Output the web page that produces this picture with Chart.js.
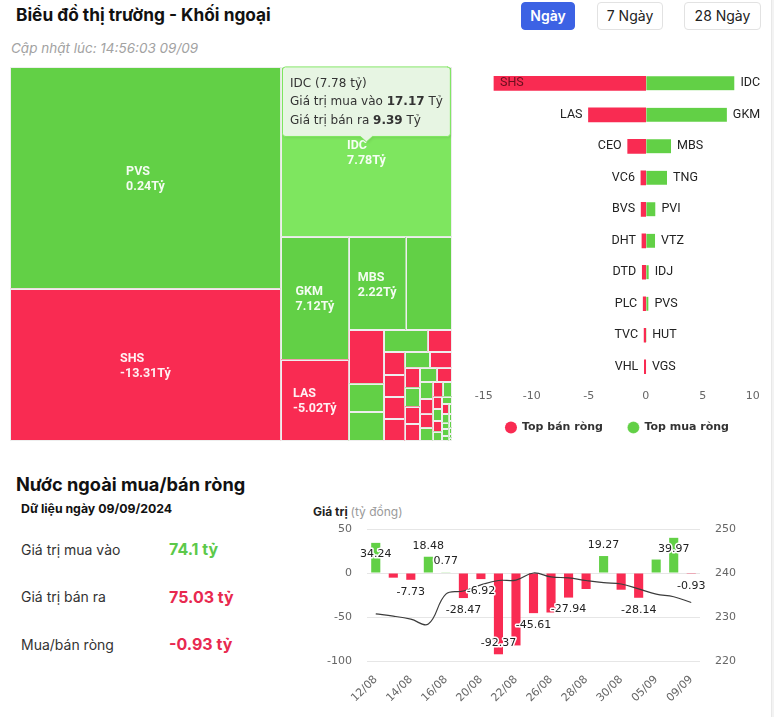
<!DOCTYPE html>
<html lang="vi">
<head>
<meta charset="utf-8">
<title>Biểu đồ thị trường - Khối ngoại</title>
<script src="https://cdn.jsdelivr.net/npm/chart.js@4.4.1/dist/chart.umd.min.js"></script>
<style>
html,body{margin:0;padding:0;background:#fff;}
body{width:774px;height:717px;position:relative;overflow:hidden;font-family:Inter,"Noto Sans",sans-serif;color:#111;}
.a{position:absolute;white-space:nowrap;line-height:1.2;}
#title{left:16px;top:5px;font-size:17.3px;font-weight:700;color:#111;}
#updated{left:11px;top:40px;font-size:13.5px;font-style:italic;color:#a2a2a2;}
.btn{position:absolute;top:2px;height:28px;line-height:26px;border:1px solid #e2e2e2;border-radius:4px;font-size:14px;text-align:center;color:#222;background:#fff;box-sizing:border-box;}
.btn.on{background:#3c62e4;border-color:#3c62e4;color:#fff;font-weight:600;}
#scroll{position:absolute;left:771px;top:0;width:3px;height:717px;background:#f3f3f3;border-left:1px solid #e8e8e8;}
canvas{position:absolute;}
#tm{left:10px;top:66px;}
#hb{left:460px;top:60px;}
#fl{left:300px;top:495px;}
#h2{left:16px;top:474px;font-size:18.2px;font-weight:700;}
#dd{left:21px;top:502px;font-size:12.3px;font-weight:700;}
.sl{left:21px;font-size:14px;color:#333;}
.sv{left:169px;font-size:16px;font-weight:700;}
#axt{left:313px;top:505px;font-size:12px;font-weight:700;color:#222;}
#axt span{font-weight:400;color:#9a9a9a;}
</style>
</head>
<body>
<div id="title" class="a">Biểu đồ thị trường - Khối ngoại</div>
<div id="updated" class="a">Cập nhật lúc: 14:56:03 09/09</div>
<div class="btn on" style="left:521px;width:54px;">Ngày</div>
<div class="btn" style="left:597px;width:66px;">7 Ngày</div>
<div class="btn" style="left:684px;width:77px;">28 Ngày</div>

<canvas id="tm" width="442" height="376"></canvas>
<canvas id="hb" width="314" height="383"></canvas>

<div id="h2" class="a">Nước ngoài mua/bán ròng</div>
<div id="dd" class="a">Dữ liệu ngày 09/09/2024</div>
<div id="stats"></div>
<div id="axt" class="a">Giá trị <span>(tỷ đồng)</span></div>
<canvas id="fl" width="474" height="222"></canvas>
<div id="scroll"></div>

<script>
// ---------------- DATA ----------------
// Treemap: total traded value (buy + sell, tỷ) and net value per ticker
const tmNames  = ['PVS','SHS','IDC','GKM','LAS','MBS','TNG','CEO','PVI','VTZ','HUT','VC6','BVS','DHT','DTD','PLC',
                  'IDJ','TVC','VHL','VGS','NTP','PVC','DDG','PVB','TIG','VCS','HHC','BCC','L14','IDV','NRC','APS',
                  'AMV','DL1','SHN','MST','KLF','VIG','HOM','PCT','SDA','VMC','TTH','KSF','ART','HDA'];
const tmTotals = [54.91,37.63,26.56,7.61,5.05,4.83,3.96,1.72,0.92,0.92,0.89,0.49,0.43,0.42,0.42,0.41,
                  0.36,0.31,0.28,0.27,0.25,0.24,0.22,0.20,0.19,0.17,0.16,0.15,0.13,0.12,0.11,0.10,
                  0.09,0.08,0.07,0.06,0.05,0.04,0.04,0.03,0.03,0.02,0.02,0.02,0.01,0.01];
const tmNet    = [0.24,-13.31,7.78,7.12,-5.02,2.22,1.87,-1.58,0.85,0.82,0.04,-0.42,-0.40,-0.33,-0.30,-0.22,
                  0.26,-0.14,-0.12,0.02,-0.09,-0.08,0.01,-0.07,0.01,-0.06,-0.05,0.01,-0.04,0.01,-0.03,0.01,
                  -0.02,0.01,0.01,-0.01,0.01,0.01,0.01,0.01,0.01,0.01,0.01,0.01,0.01,0.01];
const hoverTicker = 'IDC';
const hoverBuy = 17.17;
const hoverSell = 9.39;

// Top net sell / net buy
const sellNames  = ['SHS','LAS','CEO','VC6','BVS','DHT','DTD','PLC','TVC','VHL'];
const sellValues = [-13.31,-5.02,-1.58,-0.42,-0.40,-0.33,-0.30,-0.22,-0.14,-0.12];
const buyNames   = ['IDC','GKM','MBS','TNG','PVI','VTZ','IDJ','PVS','HUT','VGS'];
const buyValues  = [7.78,7.12,2.22,1.87,0.85,0.82,0.26,0.24,0.04,0.02];
const hbTicks    = [-15,-10,-5,0,5,10];

// Daily foreign net flow (tỷ đồng) and index line
const flowDates   = ['12/08','13/08','14/08','15/08','16/08','19/08','20/08','21/08','22/08','23/08',
                     '26/08','27/08','28/08','29/08','30/08','04/09','05/09','06/09','09/09'];
const flowValues  = [34.24,-5.3,-7.73,18.48,0.77,-28.47,-6.92,-92.37,-82.3,-45.61,
                     -44.9,-27.94,-18.2,19.27,-19.0,-28.14,15.3,39.97,-0.93];
const indexValues = [230.7,230.2,229.5,228.4,235.2,235.9,237.3,238.3,238.4,240.0,
                     239.1,238.9,238.3,237.8,237.5,236.4,235.2,234.6,233.3];
const leftTicks  = [-100,-50,0,50];
const rightTicks = [220,230,240,250];

// Summary
const statLabels = ['Giá trị mua vào','Giá trị bán ra','Mua/bán ròng'];
const statValues = [74.1,75.03,-0.93];

// ---------------- STYLE ----------------
const GREEN = '#62d046', RED = '#f92b52', HOVER_GREEN = '#7ee65f';
Chart.defaults.font.family = "'DejaVu Sans', sans-serif";
Chart.defaults.animation = false;

// summary rows
(function(){
  const wrap = document.getElementById('stats');
  const centers = [550,597.5,645];
  statLabels.forEach((l,i)=>{
    const d = document.createElement('div'); d.className='a sl'; d.textContent=l;
    d.style.top = (centers[i]-8.4)+'px'; wrap.appendChild(d);
    const v = document.createElement('div'); v.className='a sv';
    const val = statValues[i];
    v.textContent = (i===0 ? val.toFixed(1) : val.toFixed(2)) + ' tỷ';
    v.style.color = i===0 ? '#5cc94a' : '#e8294f';
    v.style.top = (centers[i]-9.8)+'px'; wrap.appendChild(v);
  });
})();

// ---------------- TREEMAP ----------------
function layoutTreemap(vals, W, H){
  const total = vals.reduce((s,v)=>s+v,0);
  const k = W*H/total;
  const rects = [];
  let rx=0, ry=0, rw=W, rh=H, dir=0, group=[], gsum=0;
  const ratio=(a,b)=>Math.max(a/b,b/a);
  const emit=(thick)=>{
    let cx=rx, cy=ry;
    group.forEach(g=>{
      if(dir===0){const h=g.a/thick; rects.push({i:g.i,x:rx,y:cy,w:thick,h:h}); cy+=h;}
      else {const w=g.a/thick; rects.push({i:g.i,x:cx,y:ry,w:w,h:thick}); cx+=w;}
    });
    if(dir===0){rx+=thick; rw-=thick;} else {ry+=thick; rh-=thick;}
    dir=1-dir; group=[]; gsum=0;
  };
  vals.forEach((v,i)=>{
    const a=v*k;
    if(group.length){
      const side = dir===0 ? rh : rw;
      const last = group[group.length-1].a;
      const t0 = gsum/side, t1=(gsum+a)/side;
      if (ratio(t1, last/t1) > ratio(t0, last/t0)) emit(t0);
    }
    group.push({i:i,a:a}); gsum+=a;
  });
  if(group.length) emit(gsum/(dir===0?rh:rw));
  return rects;
}

const treemapPlugin = {
  id:'treemapCells',
  afterDatasetsDraw(chart){
    const ctx = chart.ctx, a = chart.chartArea, xs = chart.scales.x, ys = chart.scales.y;
    const W = a.right-a.left, H = a.bottom-a.top;
    const rects = layoutTreemap(tmTotals, W, H);
    ctx.save();
    let hov = null;
    rects.forEach(r=>{
      const x0 = xs.getPixelForValue(r.x/W), x1 = xs.getPixelForValue((r.x+r.w)/W);
      const y0 = ys.getPixelForValue(r.y/H), y1 = ys.getPixelForValue((r.y+r.h)/H);
      const net = tmNet[r.i];
      const isHov = tmNames[r.i]===hoverTicker;
      ctx.fillStyle = net>=0 ? (isHov?HOVER_GREEN:GREEN) : RED;
      ctx.fillRect(x0,y0,x1-x0,y1-y0);
      ctx.strokeStyle = '#eeeeee'; ctx.lineWidth = 1;
      ctx.strokeRect(Math.round(x0)+0.5, Math.round(y0)+0.5, Math.round(x1)-Math.round(x0)-1, Math.round(y1)-Math.round(y0)-1);
      r.px={x0,x1,y0,y1};
      if(isHov) hov = r;
    });
    // labels
    ctx.font = "bold 12.5px Roboto"; ctx.textBaseline='middle'; ctx.textAlign='left';
    ctx.fillStyle = 'rgba(255,255,255,0.93)';
    rects.forEach(r=>{
      const {x0,x1,y0,y1} = r.px;
      if (x1-x0 < 52 || y1-y0 < 40) return;
      const l1 = tmNames[r.i], l2 = tmNet[r.i].toFixed(2)+'Tỷ';
      const w = Math.max(ctx.measureText(l1).width, ctx.measureText(l2).width);
      const cx=(x0+x1)/2, cy=(y0+y1)/2;
      ctx.fillText(l1, cx-w/2, cy-6);
      ctx.fillText(l2, cx-w/2, cy+9);
    });
    // tooltip for hovered cell
    if (hov){
      const {x0,x1,y0,y1} = hov.px;
      const cx=(x0+x1)/2, cy=(y0+y1)/2;
      const net = tmNet[hov.i];
      const lines = [
        [[hoverTicker+' ('+net.toFixed(2)+' tỷ)',false]],
        [['Giá trị mua vào ',false],[hoverBuy.toFixed(2),true],[' Tỷ',false]],
        [['Giá trị bán ra ',false],[hoverSell.toFixed(2),true],[' Tỷ',false]]
      ];
      const fN = "12px 'DejaVu Sans'", fB = "bold 12px 'DejaVu Sans'";
      const widths = lines.map(ln=>ln.reduce((s,p)=>{ctx.font=p[1]?fB:fN; return s+ctx.measureText(p[0]).width;},0));
      const bw = Math.max(...widths)+16, bh = 70;
      const tipY = cy-10, bb = tipY-5.5, bt = bb-bh, bl = cx-bw/2;
      ctx.beginPath();
      const rr=3;
      ctx.moveTo(bl+rr+0.5, bt+0.5);
      ctx.lineTo(bl+bw-rr, bt+0.5); ctx.arcTo(bl+bw-0.5,bt+0.5,bl+bw-0.5,bt+rr,rr);
      ctx.lineTo(bl+bw-0.5, bb-rr); ctx.arcTo(bl+bw-0.5,bb,bl+bw-rr,bb,rr);
      ctx.lineTo(cx+6, bb); ctx.lineTo(cx, tipY); ctx.lineTo(cx-6, bb);
      ctx.lineTo(bl+rr, bb); ctx.arcTo(bl+0.5,bb,bl+0.5,bb-rr,rr);
      ctx.lineTo(bl+0.5, bt+rr); ctx.arcTo(bl+0.5,bt+0.5,bl+rr,bt+0.5,rr);
      ctx.closePath();
      ctx.shadowColor='rgba(0,0,0,0.12)'; ctx.shadowBlur=3; ctx.shadowOffsetX=1; ctx.shadowOffsetY=1;
      ctx.fillStyle='rgba(250,252,250,0.86)'; ctx.fill();
      ctx.shadowColor='transparent';
      ctx.strokeStyle=HOVER_GREEN; ctx.lineWidth=1; ctx.stroke();
      ctx.textBaseline='middle'; ctx.textAlign='left'; ctx.fillStyle='#333';
      lines.forEach((ln,li)=>{
        let x = bl+8; const y = bt+17.2+li*18.5;
        ln.forEach(p=>{ctx.font=p[1]?fB:fN; ctx.fillText(p[0],x,y); x+=ctx.measureText(p[0]).width;});
      });
    }
    ctx.restore();
  }
};

new Chart(document.getElementById('tm'), {
  type:'scatter',
  data:{datasets:[{data:[]}]},
  options:{
    responsive:false, animation:false,
    layout:{padding:{top:1,bottom:1,left:0,right:0}},
    plugins:{legend:{display:false},tooltip:{enabled:false}},
    scales:{
      x:{type:'linear',min:0,max:1,display:false},
      y:{type:'linear',min:0,max:1,reverse:true,display:false}
    }
  },
  plugins:[treemapPlugin]
});

// ---------------- TOP BUY / SELL BARS ----------------
const barNamePlugin = {
  id:'barNames',
  beforeDraw(chart){
    // let the tick labels extend below the compact axis box
    const s = chart.scales.x; s.bottom = s.top + 24;
  },
  afterDatasetsDraw(chart){
    const ctx=chart.ctx, a=chart.chartArea;
    ctx.save(); ctx.font='12.5px Roboto'; ctx.textBaseline='middle';
    chart.getDatasetMeta(0).data.forEach((el,i)=>{
      const t=sellNames[i], w=ctx.measureText(t).width, x=el.x-6;
      if (x-w < a.left){ ctx.textAlign='left'; ctx.fillStyle='#6a0f1e'; ctx.fillText(t, el.x+6, el.y); }
      else { ctx.textAlign='right'; ctx.fillStyle='#222'; ctx.fillText(t, x, el.y); }
    });
    chart.getDatasetMeta(1).data.forEach((el,i)=>{
      ctx.textAlign='left'; ctx.fillStyle='#222'; ctx.fillText(buyNames[i], el.x+6, el.y);
    });
    ctx.restore();
  }
};

new Chart(document.getElementById('hb'), {
  type:'bar',
  data:{
    labels: sellNames.map((s,i)=>s+' / '+buyNames[i]),
    datasets:[
      {label:'Top bán ròng', data:sellValues, backgroundColor:RED, borderWidth:0, barThickness:14, pointStyle:'circle'},
      {label:'Top mua ròng', data:buyValues, backgroundColor:GREEN, borderColor:'#ffffff', borderWidth:{left:1,right:0,top:0,bottom:0}, borderSkipped:false, barThickness:14, pointStyle:'circle'}
    ]
  },
  options:{
    indexAxis:'y', responsive:false, animation:false,
    layout:{padding:{top:7.6,left:14.7,right:14.3,bottom:0}},
    scales:{
      x:{stacked:true, min:hbTicks[0], max:hbTicks[hbTicks.length-1],
         afterBuildTicks:s=>{s.ticks = hbTicks.map(v=>({value:v}));},
         ticks:{align:'inner', color:'#666', font:{size:11}, padding:7},
         grid:{display:false, drawTicks:false}, border:{display:false},
         afterFit:s=>{s.height=14.5;}},
      y:{stacked:true, display:false}
    },
    plugins:{
      tooltip:{enabled:false},
      legend:{position:'bottom',
        labels:{usePointStyle:true, pointStyle:'circle', boxWidth:11, boxHeight:8.5, color:'#333',
                font:{size:11, weight:'bold'}, padding:25}}
    }
  },
  plugins:[barNamePlugin]
});

// ---------------- NET FLOW COMBO ----------------
const flowLabelPlugin = {
  id:'flowLabels',
  afterDatasetsDraw(chart){
    const meta = chart.getDatasetMeta(1);
    const ctx = chart.ctx, a = chart.chartArea;
    ctx.save(); ctx.font = "11px 'DejaVu Sans'";
    const items = meta.data.map((el,i)=>{
      const v = flowValues[i], txt = v.toFixed(2);
      const w = ctx.measureText(txt).width, h = 13;
      let y;
      if (v>=0){ y = el.y-11; if (y-h/2 < a.top) y = el.y+11; }
      else { y = el.y+12; if (y+h/2 > a.bottom) y = el.y-11; }
      return {txt, x:el.x, y, w, h, rank:Math.abs(v)};
    });
    const placed=[];
    [...items].sort((p,q)=>q.rank-p.rank).forEach(it=>{
      const b={l:it.x-it.w/2, r:it.x+it.w/2, t:it.y-it.h/2, b:it.y+it.h/2};
      if (placed.some(p=>b.l<p.r && b.r>p.l && b.t<p.b && b.b>p.t)) return;
      placed.push(b); it.show=true;
    });
    ctx.textAlign='center'; ctx.textBaseline='middle'; ctx.lineJoin='round';
    items.forEach(it=>{
      if(!it.show) return;
      ctx.lineWidth=3; ctx.strokeStyle='#ffffff'; ctx.strokeText(it.txt,it.x,it.y);
      ctx.fillStyle='#222'; ctx.fillText(it.txt,it.x,it.y);
    });
    ctx.restore();
  }
};

new Chart(document.getElementById('fl'), {
  data:{
    labels: flowDates,
    datasets:[
      {type:'line', data:indexValues, yAxisID:'y1', borderColor:'#3c3c3c', borderWidth:1.2, pointRadius:0, tension:0.4, fill:false, order:0},
      {type:'bar', data:flowValues, yAxisID:'y', backgroundColor:flowValues.map(v=>v>=0?GREEN:RED), barPercentage:0.52, categoryPercentage:1, order:1}
    ]
  },
  options:{
    responsive:false, animation:false,
    layout:{padding:{top:34,bottom:6,left:0,right:0}},
    plugins:{legend:{display:false}, tooltip:{enabled:false}},
    scales:{
      x:{grid:{display:false}, border:{display:false},
         ticks:{autoSkip:false, maxRotation:45, minRotation:45, color:'#666', font:{size:11}, padding:4,
                callback:(v,i)=> i%2===0 ? flowDates[i] : ''},
         afterFit:s=>{s.height=50;}},
      y:{position:'left', min:leftTicks[0], max:leftTicks[leftTicks.length-1],
         afterBuildTicks:s=>{s.ticks = leftTicks.map(v=>({value:v}));},
         ticks:{color:'#666', font:{size:11}, padding:15},
         grid:{color:'#e6e6e6', drawTicks:false}, border:{display:false},
         afterFit:s=>{s.width=67;}},
      y1:{position:'right', min:rightTicks[0], max:rightTicks[rightTicks.length-1],
         afterBuildTicks:s=>{s.ticks = rightTicks.map(v=>({value:v}));},
         ticks:{color:'#666', font:{size:11}, padding:15},
         grid:{display:false, drawTicks:false}, border:{display:false},
         afterFit:s=>{s.width=74;}}
    }
  },
  plugins:[flowLabelPlugin]
});
</script>
</body>
</html>
